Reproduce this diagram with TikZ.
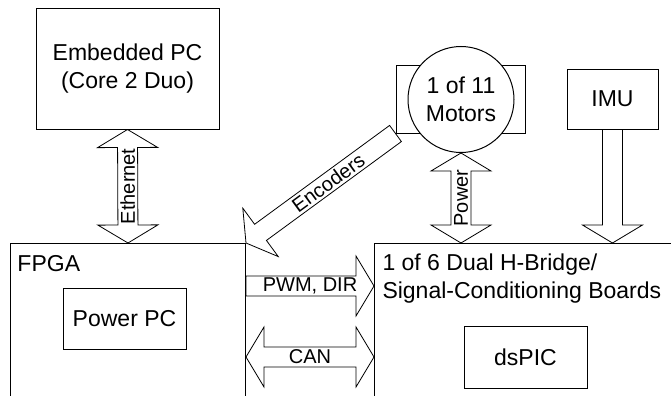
\documentclass[tikz,border=0pt]{standalone}
\usepackage{fontspec}
\setmainfont{Liberation Sans}
\usetikzlibrary{calc,backgrounds}
\tikzset{
  box/.style={draw, fill=white, inner sep=0pt, align=center, font=\fontsize{11.5}{14}\selectfont},
  lbl/.style={inner sep=0pt, font=\fontsize{10}{12}\selectfont},
  sarrow/.style={draw, fill=white, to path={
    let \p1=($(\tikztotarget)!9pt!(\tikztostart)$) in
    -- ($(\tikztostart)!5pt!90:(\tikztotarget)$)
    -- ($(\p1)!5pt!90:(\tikztotarget)$)
    -- ($(\p1)!15pt!90:(\tikztotarget)$)
    -- (\tikztotarget)
    -- ($(\p1)!15pt!-90:(\tikztotarget)$)
    -- ($(\p1)!5pt!-90:(\tikztotarget)$)
    -- ($(\tikztostart)!5pt!-90:(\tikztotarget)$)
    -- cycle}},
  darrow/.style={draw, fill=white, to path={
    let \p1=($(\tikztostart)!9pt!(\tikztotarget)$), \p2=($(\tikztotarget)!9pt!(\tikztostart)$) in
    -- ($(\p1)!15pt!90:(\tikztotarget)$)
    -- ($(\p1)!5pt!90:(\tikztotarget)$)
    -- ($(\p2)!5pt!90:(\tikztotarget)$)
    -- ($(\p2)!15pt!90:(\tikztotarget)$)
    -- (\tikztotarget)
    -- ($(\p2)!15pt!-90:(\tikztotarget)$)
    -- ($(\p2)!5pt!-90:(\tikztotarget)$)
    -- ($(\p1)!5pt!-90:(\tikztotarget)$)
    -- ($(\p1)!15pt!-90:(\tikztotarget)$)
    -- cycle}}
}
\begin{document}
\begin{tikzpicture}[x=0.5pt, y=-0.5pt, line width=0.5pt]
  \useasboundingbox (0,0) rectangle (671,396);
  \clip (0,0) rectangle (671,396);
  \node[box, minimum width=91.5pt, minimum height=60.5pt] (epc) at (127.5,68.5) {Embedded PC\\(Core 2 Duo)};
  \node[box, anchor=north west, minimum width=117.5pt, minimum height=110pt] (fpga) at (10,243) {};
  \node[box, draw=none, fill=none, anchor=base west] (fpgatxt) at (17,271) {FPGA};
  \node[box, minimum width=61.5pt, minimum height=30.5pt] (ppc) at (124.5,318.5) {Power PC};
  \node[box, anchor=north west, minimum width=160pt, minimum height=110pt] (board) at (374,243) {};
  \node[box, draw=none, fill=none, anchor=north west, align=left] (boardtxt) at (382,253) {1 of 6 Dual H-Bridge/\\Signal-Conditioning Boards};
  \node[box, minimum width=61.5pt, minimum height=31pt] (dspic) at (525.5,357) {dsPIC};
  \node[box, minimum width=64.5pt, minimum height=34pt] (motbox) at (460.5,99) {};
  \node[box, circle, minimum size=53pt] (mot) at (461,99.5) {1 of 11\\Motors};
  \node[box, minimum width=45.5pt, minimum height=30pt] (imu) at (612.5,99) {IMU};
  \coordinate (pwm) at (0,286);
  \begin{scope}[on background layer]
    \draw[darrow] (epc.south) to (fpga.north);
    \draw[sarrow] (motbox.south west) to (fpga.north east);
    \draw[darrow] (mot.south) to (mot.south |- board.north);
    \draw[sarrow] (imu.south) to (imu.south |- board.north);
    \draw[sarrow] (fpga.east |- pwm) to (board.west |- pwm);
    \draw[darrow] (fpga.east |- dspic) to (board.west |- dspic);
  \end{scope}
  \path (epc.south) -- node[lbl, rotate=90] (ethtxt) {Ethernet} (fpga.north);
  \path (motbox.south west) -- node[lbl, sloped, pos=0.45] (enctxt) {Encoders} (fpga.north east);
  \path (mot.south) -- node[lbl, rotate=90] (powtxt) {Power} (mot.south |- board.north);
  \path (fpga.east |- pwm) -- node[lbl] (pwmtxt) {PWM, DIR} (board.west |- pwm);
  \path (fpga.east |- dspic) -- node[lbl] (cantxt) {CAN} (board.west |- dspic);
\end{tikzpicture}
\end{document}
